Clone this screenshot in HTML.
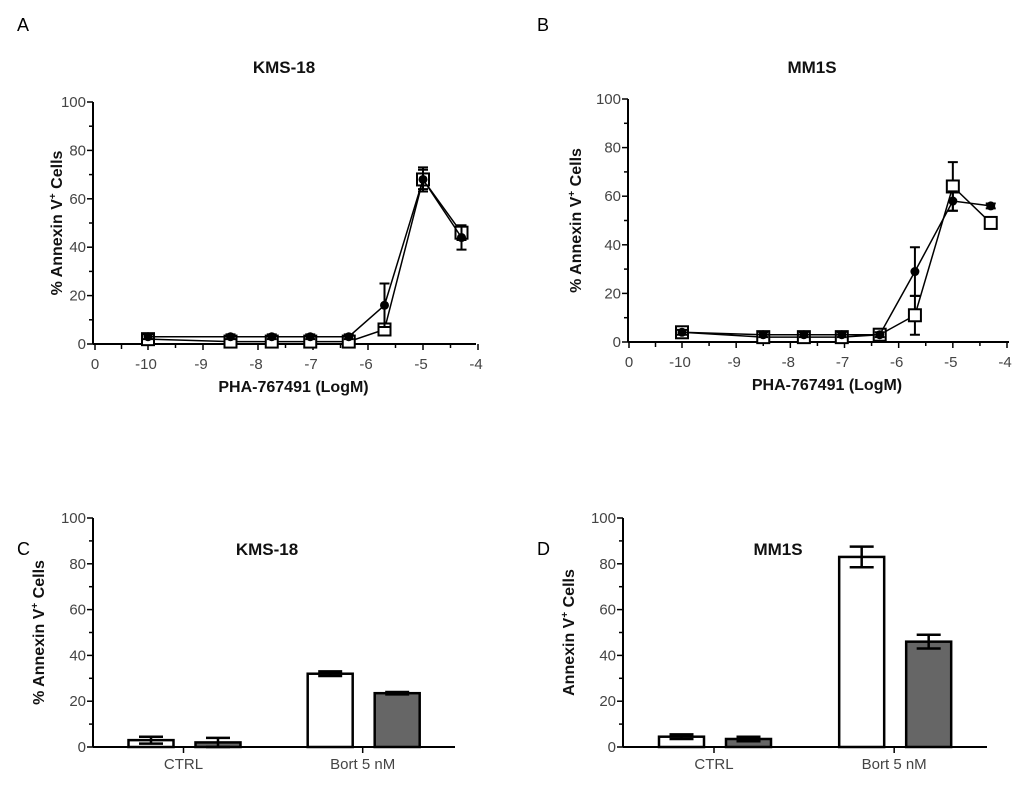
<!DOCTYPE html>
<html><head><meta charset="utf-8"><style>
body{margin:0;background:#fff;}
svg{display:block;font-family:"Liberation Sans",sans-serif;}
</style></head><body>
<svg id="fig" width="1024" height="790" viewBox="0 0 1024 790" xmlns="http://www.w3.org/2000/svg">
<g fill="#000" font-size="18">
<text x="17" y="31">A</text>
<text x="537" y="31">B</text>
<text x="17" y="555">C</text>
<text x="537" y="555">D</text>
</g>
<g font-weight="bold" font-size="17" text-anchor="middle" fill="#111">
<text x="284" y="73">KMS-18</text>
<text x="812" y="73">MM1S</text>
<text x="267" y="555">KMS-18</text>
<text x="778" y="555">MM1S</text>
</g>
<g id="plots"></g>
</svg>
<script>
const lineX = [-10, -8.5, -7.75, -7.05, -6.35, -5.7, -5, -4.3];
const xTicks = [-10, -9, -8, -7, -6, -5, -4];
const yTicks = [0, 20, 40, 60, 80, 100];
const aFilled = [3, 3, 3, 3, 3, 16, 68, 44];
const aFilledErr = [1, 1, 1, 1, 1, 9, 5, 5];
const aOpen = [2, 1, 1, 1, 1, 6, 68, 46];
const aOpenErr = [1, 1, 1, 1, 1, 2, 4, 3];
const bFilled = [4, 3, 3, 3, 3, 29, 58, 56];
const bFilledErr = [1, 1, 1, 1, 1, 10, 4, 1];
const bOpen = [4, 2, 2, 2, 3, 11, 64, 49];
const bOpenErr = [1, 1, 1, 1, 1, 8, 10, 1];
const barCats = ["CTRL", "Bort 5 nM"];
const cWhite = [3, 32];
const cWhiteErr = [1.5, 1];
const cGray = [2, 23.5];
const cGrayErr = [2, 0.5];
const dWhite = [4.5, 83];
const dWhiteErr = [1, 4.5];
const dGray = [3.5, 46];
const dGrayErr = [1, 3];

const NS = "http://www.w3.org/2000/svg";
const root = document.getElementById("plots");
function mk(tag, attrs, parent) {
  const e = document.createElementNS(NS, tag);
  for (const k in attrs) e.setAttribute(k, attrs[k]);
  (parent || root).appendChild(e);
  return e;
}
function txt(s, attrs, parent) { const e = mk("text", attrs, parent); e.textContent = s; return e; }

function yAxis(g, ax, y0, y100) {
  const sy = v => y0 + (y100 - y0) * v / 100;
  const yl = mk("line", {x1: ax, x2: ax, y1: y100, y2: y0, stroke: "#000", "stroke-width": 2}, g);
  
  
  for (let v = 0; v <= 100; v += 10) {
    const t = mk("line", {x1: ax - (v % 20 === 0 ? 6 : 4), x2: ax, y1: sy(v), y2: sy(v), stroke: "#000", "stroke-width": 1.5}, g);
    
    
  }
  yTicks.forEach(v => {
    const l = txt(String(v), {x: ax - 7, y: sy(v) + 5, "text-anchor": "end", "font-size": 15, fill: "#444"}, g);
    
    
  });
  return sy;
}

function linePanel(name, ax, axRight, y0, y100, x0lbl, xm10, xm4, filled, fErr, open, oErr, ytitleX) {
  const g = mk("g", {});
  
  
  const sy = yAxis(g, ax, y0, y100);
  const sx = v => xm4 - (-4 - v) * (xm4 - xm10) / 6;
  const xl = mk("line", {x1: ax, x2: axRight, y1: y0, y2: y0, stroke: "#000", "stroke-width": 2}, g);
  
  
  const tickVals = [];
  for (let v = -10; v <= -4.001; v += 0.5) tickVals.push(v);
  tickVals.push(-4);
  const t0 = mk("line", {x1: x0lbl, x2: x0lbl, y1: y0, y2: y0 + 6, stroke: "#000", "stroke-width": 1.5}, g);
  
  
  const tm = mk("line", {x1: (x0lbl + sx(-10)) / 2, x2: (x0lbl + sx(-10)) / 2, y1: y0, y2: y0 + 5, stroke: "#000", "stroke-width": 1.5}, g);
  
  
  tickVals.forEach(v => {
    const major = Math.abs(v - Math.round(v)) < 0.01;
    const t = mk("line", {x1: sx(v), x2: sx(v), y1: y0, y2: y0 + (major ? 6 : 4), stroke: "#000", "stroke-width": 1.5}, g);
    
    
  });
  const l0 = txt("0", {x: x0lbl, y: y0 + 25, "text-anchor": "middle", "font-size": 15, fill: "#444"}, g);
  
  
  xTicks.forEach(v => {
    const l = txt(String(v), {x: sx(v) - 2, y: y0 + 25, "text-anchor": "middle", "font-size": 15, fill: "#444"}, g);
    
    
  });
  const xt = txt("PHA-767491 (LogM)", {x: (x0lbl + axRight) / 2 + 8, y: y0 + 48, "text-anchor": "middle", "font-size": 16, "font-weight": "bold", fill: "#111"}, g);
  
  
  const yt = mk("text", {x: 0, y: 0, "text-anchor": "middle", "font-size": 16, "font-weight": "bold", fill: "#111",
    transform: `translate(${ytitleX},${(y0 + y100) / 2}) rotate(-90)`}, g);
  yt.innerHTML = '% Annexin V<tspan dy="-6" font-size="10">+</tspan><tspan dy="6"> Cells</tspan>';
  
  
  function series(vals, errs, isFilled) {
    const sg = mk("g", {}, g);
    
    
    const pts = lineX.map((x, i) => sx(x) + "," + sy(vals[i])).join(" ");
    mk("polyline", {points: pts, fill: "none", stroke: "#000", "stroke-width": 1.5}, sg);
    lineX.forEach((x, i) => {
      const px = sx(x), py = sy(vals[i]), e1 = sy(vals[i] + errs[i]), e2 = sy(vals[i] - errs[i]);
      const eb = mk("path", {d: `M${px},${e1}V${e2}M${px - 5},${e1}H${px + 5}M${px - 5},${e2}H${px + 5}`, stroke: "#000", "stroke-width": 2, fill: "none"}, sg);
      
      
      let m;
      if (isFilled) m = mk("circle", {cx: px, cy: py, r: 4.5, fill: "#000"}, sg);
      else m = mk("rect", {x: px - 6, y: py - 6, width: 12, height: 12, fill: "#fff", stroke: "#000", "stroke-width": 2}, sg);
      
      
    });
  }
  series(open, oErr, false);
  series(filled, fErr, true);
}

function barPanel(name, ax, axRight, y0, y100, white, wErr, gray, gErr, ytitle, ytitleX) {
  const g = mk("g", {});
  
  
  const sy = yAxis(g, ax, y0, y100);
  const xl = mk("line", {x1: ax, x2: axRight, y1: y0, y2: y0, stroke: "#000", "stroke-width": 2}, g);
  
  
  const W = axRight - ax;
  const bw = 45;
  barCats.forEach((c, ci) => {
    const cx = ax + W * (0.25 + 0.495 * ci);
    const t = mk("line", {x1: cx, x2: cx, y1: y0, y2: y0 + 6, stroke: "#000", "stroke-width": 1.5}, g);
    
    
    const l = txt(c, {x: cx, y: y0 + 22, "text-anchor": "middle", "font-size": 15, fill: "#444"}, g);
    
    
    [[white, wErr, "#fff", cx - 55], [gray, gErr, "#666", cx + 12]].forEach(([vals, errs, fill, bx]) => {
      const v = vals[ci];
      const r = mk("rect", {x: bx, y: sy(v), width: bw, height: y0 - sy(v), fill: fill, stroke: "#000", "stroke-width": 2.5}, g);
      
      
      const px = bx + bw / 2, e1 = sy(v + errs[ci]), e2 = sy(v - errs[ci]);
      const eb = mk("path", {d: `M${px},${e1}V${e2}M${px - 12},${e1}H${px + 12}M${px - 12},${e2}H${px + 12}`, stroke: "#000", "stroke-width": 2.5, fill: "none"}, g);
      
      
    });
  });
  const yt = mk("text", {x: 0, y: 0, "text-anchor": "middle", "font-size": 16, "font-weight": "bold", fill: "#111",
    transform: `translate(${ytitleX},${(y0 + y100) / 2}) rotate(-90)`}, g);
  yt.innerHTML = ytitle + '<tspan dy="-6" font-size="10">+</tspan><tspan dy="6"> Cells</tspan>';
  
  
}

linePanel("panel-a-chart", 93, 476, 344, 102, 95, 148, 478, aFilled, aFilledErr, aOpen, aOpenErr, 62);
linePanel("panel-b-chart", 628, 1009, 342, 99, 629, 682, 1007, bFilled, bFilledErr, bOpen, bOpenErr, 581);
barPanel("panel-c-chart", 93, 455, 747, 518, cWhite, cWhiteErr, cGray, cGrayErr, "% Annexin V", 44);
barPanel("panel-d-chart", 623, 987, 747, 518, dWhite, dWhiteErr, dGray, dGrayErr, "Annexin V", 574);
</script>
</body></html>
